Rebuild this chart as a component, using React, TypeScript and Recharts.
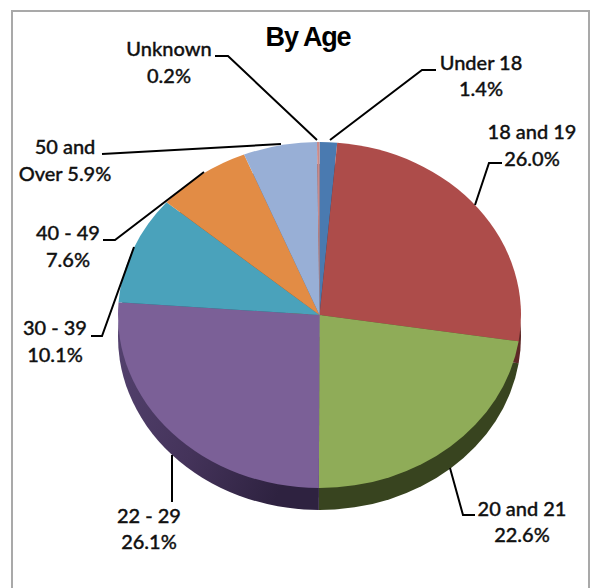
import { PieChart, Pie, Sector, Cell } from 'recharts';

const categories = ['Under 18', '18 and 19', '20 and 21', '22 - 29', '30 - 39', '40 - 49', '50 and Over', 'Unknown'];
const shares = [1.4, 26.0, 22.6, 26.1, 10.1, 7.6, 5.9, 0.2];
const topColors = ['#4a7ab0', '#ad4c4a', '#8fac58', '#7b6097', '#4aa2bb', '#e28c45', '#98afd6', '#c98a8a'];
const sideColors = ['#25405e', '#5e2826', '#38441f', 'url(#purpleSide)', '#26586a', '#7a4a22', '#505f78', '#6a4444'];

const pieData = categories.map((name, i) => ({ name, value: shares[i] }));

const WIDTH = 591;
const HEIGHT = 588;
const CX = 319.5;
const CY = 315;
const RADIUS = 201.5;
const SQUASH = 173 / 201.5;
const DEPTH = 22;

// leader lines and text sit by hand, the way they were dragged in the original
const labelLayout = [
  { lines: ['Under 18', '1.4%'], x: 481, y: [65, 91], points: '330,140 422,70 436,70' },
  { lines: ['18 and 19', '26.0%'], x: 532, y: [134, 161], points: '475,205 489,163 502,163' },
  { lines: ['20 and 21', '22.6%'], x: 522, y: [511, 537], points: '450,468 463,515 475,515' },
  { lines: ['22 - 29', '26.1%'], x: 149, y: [518, 544], points: '172,455 172,502' },
  { lines: ['30 - 39', '10.1%'], x: 55, y: [330, 357], points: '91,336 102,336 134,247' },
  { lines: ['40 - 49', '7.6%'], x: 68, y: [235, 262], points: '103,240 115,240 204,172' },
  { lines: ['50 and', 'Over 5.9%'], x: 65, y: [149, 176], points: '102,154 281,144' },
  { lines: ['Unknown', '0.2%'], x: 169, y: [51, 78], points: '215,56 228,56 317,140' },
];

function squashed(props: any) {
  const { cx, cy } = props;
  return (
    <g transform={`translate(${cx} ${cy}) scale(1 ${SQUASH}) translate(${-cx} ${-cy})`}>
      <Sector {...props} />
    </g>
  );
}

function sliceLabel({ index }: any) {
  const item = labelLayout[index];
  return (
    <g key={categories[index]}>
      <polyline points={item.points} fill="none" stroke="#000" strokeWidth={2} />
      {item.lines.map((line, i) => (
        <text
          key={line}
          x={item.x}
          y={item.y[i]}
          textAnchor="middle"
          dominantBaseline="middle"
          fontFamily="Lato, 'Open Sans', sans-serif"
          fontWeight={500}
          fontSize={20}
          stroke="#111"
          strokeWidth={0.35}
          fill="#111"
        >
          {line}
        </text>
      ))}
    </g>
  );
}

export default function App() {
  return (
    <div style={{ position: 'absolute', left: 0, top: 0, width: WIDTH, height: HEIGHT, background: '#fff', overflow: 'hidden' }}>
      <div style={{ position: 'absolute', left: 11, top: 10, width: 575, height: 600, border: '2px solid #a9a9a9' }} />
      <div
        style={{
          position: 'absolute',
          left: 221,
          top: 22,
          width: 174,
          textAlign: 'center',
          fontFamily: "'Liberation Sans', Arial, sans-serif",
          fontWeight: 700,
          fontSize: 27,
          letterSpacing: -1.2,
          color: '#000',
        }}
      >
        By Age
      </div>
      <div style={{ position: 'absolute', left: 0, top: 0 }}>
        <PieChart width={WIDTH} height={HEIGHT} margin={{ top: 0, right: 0, bottom: 0, left: 0 }}>
          <defs>
            <linearGradient id="purpleSide" x1="0" y1="0" x2="1" y2="0.4">
              <stop offset="0%" stopColor="#54426f" />
              <stop offset="55%" stopColor="#44335a" />
              <stop offset="100%" stopColor="#2e2240" />
            </linearGradient>
          </defs>
          <Pie
            data={pieData}
            dataKey="value"
            nameKey="name"
            cx={CX}
            cy={CY + DEPTH}
            outerRadius={RADIUS}
            startAngle={90}
            endAngle={-270}
            stroke="none"
            shape={squashed}
            isAnimationActive={false}
          >
            {sideColors.map((c, i) => (
              <Cell key={i} fill={c} />
            ))}
          </Pie>
          <Pie
            data={pieData}
            dataKey="value"
            nameKey="name"
            cx={CX}
            cy={CY}
            outerRadius={RADIUS}
            startAngle={90}
            endAngle={-270}
            stroke="none"
            shape={squashed}
            label={sliceLabel}
            labelLine={false}
            isAnimationActive={false}
          >
            {topColors.map((c, i) => (
              <Cell key={i} fill={c} />
            ))}
          </Pie>
        </PieChart>
      </div>
    </div>
  );
}
